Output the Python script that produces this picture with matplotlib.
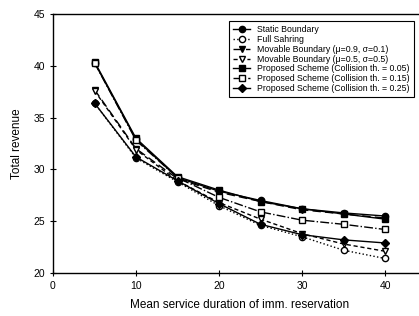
import matplotlib
matplotlib.use("Agg")
import matplotlib.pyplot as plt

plt.rcParams['font.family'] = ['Liberation Sans', 'DejaVu Sans']

x = [5, 10, 15, 20, 25, 30, 35, 40]
static_boundary = [40.3, 32.9, 29.2, 27.9, 27.0, 26.2, 25.8, 25.5]
full_sharing = [36.4, 31.1, 28.8, 26.5, 24.6, 23.5, 22.2, 21.4]
movable_09 = [37.7, 32.0, 29.1, 27.8, 26.9, 26.1, 25.7, 25.3]
movable_05 = [37.6, 31.9, 28.9, 26.8, 25.2, 23.8, 22.8, 22.1]
proposed_005 = [40.4, 33.0, 29.3, 28.0, 26.9, 26.2, 25.7, 25.2]
proposed_015 = [40.3, 32.8, 29.2, 27.3, 25.9, 25.1, 24.7, 24.2]
proposed_025 = [36.4, 31.2, 28.9, 26.7, 24.7, 23.7, 23.2, 22.9]

labels = [
    "Static Boundary",
    "Full Sahring",
    "Movable Boundary (\u03bc=0.9, \u03c3=0.1)",
    "Movable Boundary (\u03bc=0.5, \u03c3=0.5)",
    "Proposed Scheme (Collision th. = 0.05)",
    "Proposed Scheme (Collision th. = 0.15)",
    "Proposed Scheme (Collision th. = 0.25)",
]
x_ticks = [0, 10, 20, 30, 40]
y_ticks = [20, 25, 30, 35, 40, 45]

fig = plt.figure(figsize=(4.19, 3.16), dpi=100)
ax = fig.add_axes([53/419, 43/316, 373.5/419, 259/316])

k = dict(color='black', lw=1.0, markersize=4.5)
ax.plot(x, static_boundary, '-', marker='o', mfc='black', label=labels[0], **k)
ax.plot(x, full_sharing, ':', marker='o', mfc='white', label=labels[1], **k)
ax.plot(x, movable_09, linestyle=(0, (6, 3)), marker='v', mfc='black', label=labels[2], **k)
ax.plot(x, movable_05, linestyle=(0, (3, 2)), marker='v', mfc='white', label=labels[3], **k)
ax.plot(x, proposed_005, '-', marker='s', mfc='black', label=labels[4], **k)
ax.plot(x, proposed_015, '-.', marker='s', mfc='white', label=labels[5], **k)
ax.plot(x, proposed_025, '-', marker='D', mfc='black', label=labels[6],
        color='black', lw=1.0, markersize=4)

ax.set_xlim(0, 45)
ax.set_ylim(20, 45)
ax.set_xticks(x_ticks)
ax.set_yticks(y_ticks)
ax.tick_params(direction='inout', length=5, width=0.8, labelsize=7.5, pad=3)
for s in ['left', 'bottom', 'top']:
    ax.spines[s].set_linewidth(1.0)
ax.spines['right'].set_visible(False)

ax.set_xlabel("Mean service duration of imm. reservation", fontsize=8.5, labelpad=6)
ax.set_ylabel("Total revenue", fontsize=8.5, labelpad=8)

leg = ax.legend(loc='upper left', bbox_to_anchor=(176/373.5, 1 - 7/259), fontsize=6.3,
                frameon=True, fancybox=False, edgecolor='black', framealpha=1,
                handlelength=2.0, handletextpad=0.8, borderpad=0.45, labelspacing=0.1,
                borderaxespad=0)
leg.get_frame().set_linewidth(0.8)

fig.savefig("out.png", dpi=100)
